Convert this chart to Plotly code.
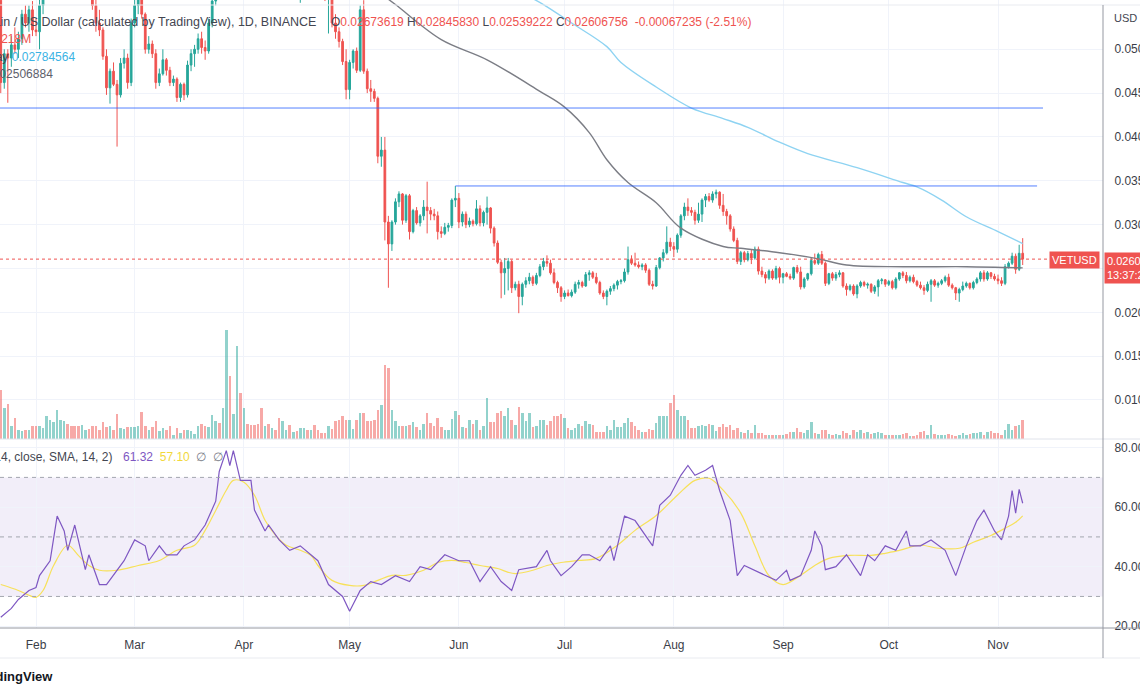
import pandas as pd
import plotly.graph_objects as go

# ---------------- DATA (VET/USD daily) ----------------
dates = pd.date_range("2022-01-22", "2022-11-08", freq="D")

opens = [
    0.0556, 0.0462, 0.0495, 0.0490, 0.0505, 0.0500, 0.0512, 0.0540, 0.0530, 0.0545,
    0.0522, 0.0520, 0.0550, 0.0575, 0.0610, 0.0620, 0.0630, 0.0670, 0.0680, 0.0690, 0.0650, 0.0610, 0.0605, 0.0580, 0.0590, 0.0610, 0.0590, 0.0550, 0.0530, 0.0522, 0.0492, 0.0456, 0.0475, 0.0460, 0.0448, 0.0484, 0.0490, 0.0462,
    0.0530, 0.0550, 0.0558, 0.0540, 0.0500, 0.0506, 0.0495, 0.0462, 0.0472, 0.0488, 0.0476, 0.0462, 0.0466, 0.0445, 0.0460, 0.0448, 0.0482, 0.0495, 0.0500, 0.0512, 0.0502, 0.0498, 0.0530, 0.0555, 0.0600, 0.0590, 0.0600, 0.0650, 0.0640, 0.0690, 0.0720,
    0.0690, 0.0710, 0.0700, 0.0695, 0.0680, 0.0665, 0.0620, 0.0635, 0.0615, 0.0625, 0.0610, 0.0575, 0.0585, 0.0600, 0.0585, 0.0595, 0.0575, 0.0592, 0.0600, 0.0595, 0.0605, 0.0585, 0.0575, 0.0570, 0.0560, 0.0565, 0.0530, 0.0520, 0.0509, 0.0486,
    0.0454, 0.0485, 0.0498, 0.0476, 0.0545, 0.0475, 0.0455, 0.0452, 0.0444, 0.0378, 0.0385, 0.0303, 0.0278, 0.0303, 0.0326, 0.0335, 0.0305, 0.0333, 0.0292, 0.0316, 0.0302, 0.0310, 0.0320, 0.0316, 0.0312, 0.0310, 0.0292, 0.0290, 0.0297, 0.0299, 0.0328,
    0.0330, 0.0303, 0.0312, 0.0300, 0.0304, 0.0301, 0.0318, 0.0302, 0.0314, 0.0319, 0.0296, 0.0279, 0.0257, 0.0245, 0.0250, 0.0258, 0.0228, 0.0232, 0.0218, 0.0232, 0.0236, 0.0240, 0.0233, 0.0242, 0.0252, 0.0258, 0.0256, 0.0245, 0.0234, 0.0228,
    0.0218, 0.0222, 0.0219, 0.0223, 0.0232, 0.0234, 0.0230, 0.0243, 0.0245, 0.0240, 0.0234, 0.0222, 0.0218, 0.0224, 0.0227, 0.0231, 0.0235, 0.0236, 0.0246, 0.0260, 0.0256, 0.0254, 0.0252, 0.0254, 0.0248, 0.0232, 0.0230, 0.0251, 0.0262, 0.0268, 0.0280,
    0.0275, 0.0272, 0.0288, 0.0310, 0.0320, 0.0316, 0.0314, 0.0305, 0.0312, 0.0328, 0.0332, 0.0328, 0.0335, 0.0337, 0.0322, 0.0315, 0.0310, 0.0295, 0.0282, 0.0258, 0.0268, 0.0260, 0.0267, 0.0262, 0.0272, 0.0247, 0.0243, 0.0239, 0.0247, 0.0239, 0.0250,
    0.0240, 0.0244, 0.0241, 0.0239, 0.0251, 0.0246, 0.0229, 0.0238, 0.0244, 0.0259, 0.0256, 0.0266, 0.0256, 0.0233, 0.0244, 0.0239, 0.0243, 0.0245, 0.0230, 0.0226, 0.0230, 0.0221, 0.0230, 0.0234, 0.0231, 0.0232, 0.0224, 0.0229, 0.0236, 0.0237,
    0.0232, 0.0235, 0.0228, 0.0238, 0.0245, 0.0242, 0.0236, 0.0240, 0.0235, 0.0231, 0.0228, 0.0225, 0.0232, 0.0236, 0.0231, 0.0233, 0.0236, 0.0240, 0.0231, 0.0228, 0.0222, 0.0226, 0.0230, 0.0233, 0.0228, 0.0234, 0.0238, 0.0245, 0.0238, 0.0245, 0.0241,
    0.0238, 0.0236, 0.0233, 0.0252, 0.0256, 0.0264, 0.0249, 0.02673619,
]
highs = [
    0.0565, 0.0500, 0.0500, 0.0515, 0.0525, 0.0520, 0.0545, 0.0550, 0.0550, 0.0555,
    0.0535, 0.0560, 0.0580, 0.0620, 0.0630, 0.0640, 0.0680, 0.0700, 0.0700, 0.0700, 0.0660, 0.0625, 0.0610, 0.0600, 0.0620, 0.0615, 0.0595, 0.0560, 0.0545, 0.0525, 0.0500, 0.0478, 0.0485, 0.0465, 0.0490, 0.0500, 0.0495, 0.0535,
    0.0560, 0.0565, 0.0562, 0.0542, 0.0515, 0.0510, 0.0500, 0.0478, 0.0500, 0.0490, 0.0480, 0.0470, 0.0468, 0.0462, 0.0462, 0.0487, 0.0500, 0.0505, 0.0518, 0.0520, 0.0510, 0.0535, 0.0560, 0.0610, 0.0610, 0.0610, 0.0660, 0.0690, 0.0700, 0.0730, 0.0730,
    0.0720, 0.0725, 0.0715, 0.0700, 0.0690, 0.0668, 0.0640, 0.0640, 0.0630, 0.0630, 0.0612, 0.0595, 0.0605, 0.0605, 0.0598, 0.0600, 0.0598, 0.0605, 0.0610, 0.0612, 0.0615, 0.0590, 0.0580, 0.0575, 0.0570, 0.0568, 0.0540, 0.0525, 0.0512, 0.0500,
    0.0488, 0.0500, 0.0502, 0.0550, 0.0556, 0.0478, 0.0465, 0.0455, 0.0446, 0.0400, 0.0400, 0.0310, 0.0305, 0.0330, 0.0338, 0.0336, 0.0335, 0.0335, 0.0318, 0.0320, 0.0312, 0.0328, 0.0349, 0.0320, 0.0318, 0.0315, 0.0298, 0.0302, 0.0302, 0.0330, 0.0344,
    0.0336, 0.0315, 0.0315, 0.0308, 0.0306, 0.0328, 0.0322, 0.0316, 0.0332, 0.0320, 0.0298, 0.0282, 0.0260, 0.0262, 0.0262, 0.0260, 0.0235, 0.0236, 0.0234, 0.0240, 0.0245, 0.0242, 0.0245, 0.0255, 0.0262, 0.0265, 0.0260, 0.0250, 0.0236, 0.0230,
    0.0225, 0.0226, 0.0226, 0.0235, 0.0237, 0.0236, 0.0246, 0.0248, 0.0247, 0.0245, 0.0236, 0.0225, 0.0226, 0.0230, 0.0233, 0.0237, 0.0238, 0.0250, 0.0275, 0.0265, 0.0268, 0.0258, 0.0256, 0.0256, 0.0250, 0.0236, 0.0254, 0.0263, 0.0272, 0.0298, 0.0285,
    0.0280, 0.0290, 0.0312, 0.0325, 0.0330, 0.0320, 0.0317, 0.0325, 0.0330, 0.0335, 0.0336, 0.0338, 0.0340, 0.0338, 0.0335, 0.0318, 0.0312, 0.0298, 0.0285, 0.0270, 0.0270, 0.0270, 0.0272, 0.0275, 0.0275, 0.0252, 0.0246, 0.0249, 0.0249, 0.0253, 0.0252,
    0.0245, 0.0246, 0.0244, 0.0252, 0.0254, 0.0252, 0.0240, 0.0245, 0.0262, 0.0267, 0.0268, 0.0270, 0.0258, 0.0245, 0.0246, 0.0246, 0.0248, 0.0246, 0.0233, 0.0232, 0.0232, 0.0232, 0.0236, 0.0236, 0.0234, 0.0233, 0.0231, 0.0238, 0.0239, 0.0238,
    0.0237, 0.0237, 0.0240, 0.0246, 0.0247, 0.0246, 0.0242, 0.0243, 0.0237, 0.0235, 0.0231, 0.0235, 0.0238, 0.0238, 0.0235, 0.0238, 0.0242, 0.0244, 0.0233, 0.0229, 0.0228, 0.0235, 0.0235, 0.0234, 0.0236, 0.0240, 0.0247, 0.0248, 0.0247, 0.0246, 0.0244,
    0.0243, 0.0240, 0.0255, 0.0258, 0.0268, 0.0267, 0.0277, 0.0284583,
]
lows = [
    0.0450, 0.0455, 0.0439, 0.0480, 0.0495, 0.0490, 0.0505, 0.0525, 0.0520, 0.0515,
    0.0515, 0.0500, 0.0540, 0.0570, 0.0600, 0.0610, 0.0625, 0.0650, 0.0665, 0.0640, 0.0600, 0.0595, 0.0575, 0.0570, 0.0585, 0.0580, 0.0545, 0.0520, 0.0515, 0.0488, 0.0448, 0.0438, 0.0458, 0.0389, 0.0445, 0.0478, 0.0455, 0.0458,
    0.0525, 0.0540, 0.0535, 0.0495, 0.0495, 0.0490, 0.0455, 0.0458, 0.0470, 0.0470, 0.0458, 0.0458, 0.0440, 0.0440, 0.0442, 0.0445, 0.0475, 0.0480, 0.0495, 0.0495, 0.0488, 0.0495, 0.0525, 0.0550, 0.0580, 0.0585, 0.0595, 0.0620, 0.0635, 0.0680, 0.0680,
    0.0670, 0.0690, 0.0690, 0.0670, 0.0660, 0.0610, 0.0615, 0.0610, 0.0610, 0.0605, 0.0570, 0.0570, 0.0580, 0.0580, 0.0580, 0.0570, 0.0553, 0.0580, 0.0590, 0.0590, 0.0580, 0.0570, 0.0565, 0.0555, 0.0518, 0.0525, 0.0512, 0.0502, 0.0482, 0.0443,
    0.0443, 0.0478, 0.0473, 0.0474, 0.0472, 0.0450, 0.0440, 0.0440, 0.0370, 0.0366, 0.0282, 0.0228, 0.0270, 0.0300, 0.0320, 0.0300, 0.0302, 0.0283, 0.0290, 0.0300, 0.0298, 0.0305, 0.0290, 0.0305, 0.0305, 0.0283, 0.0285, 0.0288, 0.0292, 0.0296, 0.0320,
    0.0296, 0.0298, 0.0296, 0.0297, 0.0298, 0.0299, 0.0298, 0.0298, 0.0300, 0.0290, 0.0275, 0.0255, 0.0216, 0.0220, 0.0225, 0.0222, 0.0225, 0.0199, 0.0208, 0.0228, 0.0232, 0.0230, 0.0231, 0.0240, 0.0248, 0.0252, 0.0243, 0.0232, 0.0222, 0.0212,
    0.0215, 0.0218, 0.0217, 0.0221, 0.0227, 0.0228, 0.0229, 0.0236, 0.0238, 0.0232, 0.0220, 0.0215, 0.0208, 0.0220, 0.0224, 0.0226, 0.0232, 0.0234, 0.0243, 0.0254, 0.0252, 0.0250, 0.0248, 0.0245, 0.0230, 0.0226, 0.0229, 0.0249, 0.0258, 0.0266, 0.0270,
    0.0263, 0.0268, 0.0285, 0.0305, 0.0310, 0.0310, 0.0300, 0.0302, 0.0303, 0.0320, 0.0326, 0.0325, 0.0330, 0.0318, 0.0310, 0.0300, 0.0292, 0.0280, 0.0255, 0.0254, 0.0257, 0.0258, 0.0255, 0.0260, 0.0243, 0.0240, 0.0233, 0.0237, 0.0237, 0.0237, 0.0233,
    0.0233, 0.0240, 0.0237, 0.0237, 0.0244, 0.0226, 0.0227, 0.0236, 0.0242, 0.0254, 0.0254, 0.0254, 0.0230, 0.0231, 0.0236, 0.0236, 0.0240, 0.0228, 0.0219, 0.0224, 0.0219, 0.0216, 0.0228, 0.0229, 0.0227, 0.0222, 0.0221, 0.0218, 0.0232, 0.0229,
    0.0230, 0.0226, 0.0226, 0.0236, 0.0239, 0.0233, 0.0234, 0.0233, 0.0229, 0.0226, 0.0220, 0.0223, 0.0212, 0.0229, 0.0228, 0.0231, 0.0234, 0.0229, 0.0226, 0.0214, 0.0212, 0.0224, 0.0228, 0.0226, 0.0226, 0.0232, 0.0235, 0.0235, 0.0236, 0.0238, 0.0236,
    0.0232, 0.0230, 0.0231, 0.0250, 0.0254, 0.0244, 0.0247, 0.02539222,
]
closes = [
    0.0462, 0.0495, 0.0490, 0.0505, 0.0500, 0.0512, 0.0540, 0.0530, 0.0545, 0.0522,
    0.0520, 0.0550, 0.0575, 0.0610, 0.0620, 0.0630, 0.0670, 0.0680, 0.0690, 0.0650, 0.0610, 0.0605, 0.0580, 0.0590, 0.0610, 0.0590, 0.0550, 0.0530, 0.0522, 0.0492, 0.0456, 0.0475, 0.0460, 0.0448, 0.0484, 0.0490, 0.0462, 0.0530,
    0.0550, 0.0558, 0.0540, 0.0500, 0.0506, 0.0495, 0.0462, 0.0472, 0.0488, 0.0476, 0.0462, 0.0466, 0.0445, 0.0460, 0.0448, 0.0482, 0.0495, 0.0500, 0.0512, 0.0502, 0.0498, 0.0530, 0.0555, 0.0600, 0.0590, 0.0600, 0.0650, 0.0640, 0.0690, 0.0720, 0.0690,
    0.0710, 0.0700, 0.0695, 0.0680, 0.0665, 0.0620, 0.0635, 0.0615, 0.0625, 0.0610, 0.0575, 0.0585, 0.0600, 0.0585, 0.0595, 0.0575, 0.0592, 0.0600, 0.0595, 0.0605, 0.0585, 0.0575, 0.0570, 0.0560, 0.0565, 0.0530, 0.0520, 0.0509, 0.0486, 0.0454,
    0.0485, 0.0498, 0.0476, 0.0545, 0.0475, 0.0455, 0.0452, 0.0444, 0.0378, 0.0385, 0.0303, 0.0278, 0.0303, 0.0326, 0.0335, 0.0305, 0.0333, 0.0292, 0.0316, 0.0302, 0.0310, 0.0320, 0.0316, 0.0312, 0.0310, 0.0292, 0.0290, 0.0297, 0.0299, 0.0328, 0.0330,
    0.0303, 0.0312, 0.0300, 0.0304, 0.0301, 0.0318, 0.0302, 0.0314, 0.0319, 0.0296, 0.0279, 0.0257, 0.0245, 0.0250, 0.0258, 0.0228, 0.0232, 0.0218, 0.0232, 0.0236, 0.0240, 0.0233, 0.0242, 0.0252, 0.0258, 0.0256, 0.0245, 0.0234, 0.0228, 0.0218,
    0.0222, 0.0219, 0.0223, 0.0232, 0.0234, 0.0230, 0.0243, 0.0245, 0.0240, 0.0234, 0.0222, 0.0218, 0.0224, 0.0227, 0.0231, 0.0235, 0.0236, 0.0246, 0.0260, 0.0256, 0.0254, 0.0252, 0.0254, 0.0248, 0.0232, 0.0230, 0.0251, 0.0262, 0.0268, 0.0280, 0.0275,
    0.0272, 0.0288, 0.0310, 0.0320, 0.0316, 0.0314, 0.0305, 0.0312, 0.0328, 0.0332, 0.0328, 0.0335, 0.0337, 0.0322, 0.0315, 0.0310, 0.0295, 0.0282, 0.0258, 0.0268, 0.0260, 0.0267, 0.0262, 0.0272, 0.0247, 0.0243, 0.0239, 0.0247, 0.0239, 0.0250, 0.0240,
    0.0244, 0.0241, 0.0239, 0.0251, 0.0246, 0.0229, 0.0238, 0.0244, 0.0259, 0.0256, 0.0266, 0.0256, 0.0233, 0.0244, 0.0239, 0.0243, 0.0245, 0.0230, 0.0226, 0.0230, 0.0221, 0.0230, 0.0234, 0.0231, 0.0232, 0.0224, 0.0229, 0.0236, 0.0237, 0.0232,
    0.0235, 0.0228, 0.0238, 0.0245, 0.0242, 0.0236, 0.0240, 0.0235, 0.0231, 0.0228, 0.0225, 0.0232, 0.0236, 0.0231, 0.0233, 0.0236, 0.0240, 0.0231, 0.0228, 0.0222, 0.0226, 0.0230, 0.0233, 0.0228, 0.0234, 0.0238, 0.0245, 0.0238, 0.0245, 0.0241, 0.0238,
    0.0236, 0.0233, 0.0252, 0.0256, 0.0264, 0.0249, 0.02673619, 0.02606756,
]
volumes = [  # millions (relative)
    148, 93, 105, 38, 63, 28, 23, 28, 28, 38,
    40, 40, 33, 68, 56, 50, 88, 56, 53, 46, 40, 40, 40, 43, 28, 30, 38, 38, 28, 51, 36, 38, 28, 76, 33, 30, 36, 36,
    36, 38, 80, 38, 28, 35, 53, 23, 33, 28, 38, 13, 33, 18, 26, 28, 25, 16, 40, 46, 40, 35, 73, 53, 48, 93, 328, 188, 76, 280, 138,
    93, 46, 43, 43, 46, 93, 40, 46, 33, 26, 63, 53, 26, 43, 20, 23, 33, 33, 28, 28, 43, 28, 18, 18, 38, 30, 53, 56, 70, 58,
    56, 30, 56, 78, 78, 53, 53, 56, 88, 103, 223, 213, 88, 53, 38, 38, 38, 43, 50, 36, 28, 46, 78, 48, 38, 63, 36, 28, 26, 60, 83,
    73, 36, 33, 56, 46, 56, 28, 38, 123, 50, 50, 78, 83, 70, 93, 56, 43, 96, 78, 53, 78, 36, 40, 56, 58, 43, 53, 70, 70, 76,
    63, 33, 28, 33, 46, 38, 53, 46, 43, 20, 20, 20, 38, 28, 56, 36, 36, 48, 63, 50, 38, 26, 20, 20, 30, 28, 48, 68, 68, 68, 108,
    133, 86, 68, 68, 56, 33, 33, 38, 43, 38, 46, 43, 23, 36, 45, 36, 43, 28, 33, 20, 18, 28, 18, 43, 18, 18, 13, 13, 13, 13, 13,
    13, 16, 20, 20, 33, 20, 18, 28, 50, 18, 16, 28, 26, 16, 13, 16, 13, 23, 18, 13, 28, 20, 28, 18, 20, 16, 18, 20, 18, 13,
    13, 13, 13, 13, 14, 18, 10, 8, 13, 20, 23, 13, 43, 16, 13, 13, 13, 16, 13, 10, 13, 18, 13, 16, 18, 18, 20, 13, 20, 23, 18,
    18, 13, 28, 46, 28, 38, 43, 56,
]
last_change = -0.00067235
last_change_pct = -2.51

# moving averages (read at sample points)
ma_slow_dates = ["2022-05-10", "2022-05-14", "2022-05-27", "2022-06-09", "2022-06-24", "2022-07-01", "2022-07-08",
                 "2022-07-13", "2022-07-19", "2022-07-27", "2022-08-03", "2022-08-15", "2022-08-20", "2022-08-31",
                 "2022-09-11", "2022-09-19", "2022-10-05", "2022-10-23", "2022-11-08"]
ma_slow_vals = [0.0563, 0.0551, 0.0511, 0.0488, 0.0452, 0.0434, 0.0405, 0.0374, 0.0348, 0.0325, 0.0296, 0.0275,
                0.0273, 0.0268, 0.0261, 0.0254, 0.0252, 0.0252, 0.02506884]
ma_long_dates = ["2022-06-20", "2022-06-25", "2022-07-03", "2022-07-13", "2022-07-17", "2022-07-27", "2022-08-06",
                 "2022-08-15", "2022-08-22", "2022-08-31", "2022-09-08", "2022-09-22", "2022-10-05", "2022-10-09",
                 "2022-10-16", "2022-10-23", "2022-11-01", "2022-11-08"]
ma_long_vals = [0.0562, 0.0551, 0.0530, 0.0503, 0.0485, 0.0457, 0.0433, 0.0421, 0.0411, 0.0394, 0.0381, 0.0365,
                0.0348, 0.0343, 0.0328, 0.0309, 0.0292, 0.02784564]

rsi_dates = ["2022-01-22","2022-01-25","2022-01-27","2022-01-30","2022-02-01","2022-02-02","2022-02-05","2022-02-07","2022-02-09","2022-02-10",
             "2022-02-12","2022-02-15","2022-02-16","2022-02-19","2022-02-21","2022-02-24","2022-02-26","2022-03-01","2022-03-04","2022-03-05",
             "2022-03-08","2022-03-10","2022-03-13","2022-03-15","2022-03-18","2022-03-21","2022-03-24","2022-03-25","2022-03-27","2022-03-28",
             "2022-03-29","2022-03-31","2022-04-03","2022-04-04","2022-04-07","2022-04-08","2022-04-11","2022-04-14","2022-04-17","2022-04-22",
             "2022-04-25","2022-04-29","2022-05-01","2022-05-04","2022-05-07","2022-05-10","2022-05-14","2022-05-18","2022-05-21","2022-05-24",
             "2022-05-28","2022-06-01","2022-06-04","2022-06-07","2022-06-10","2022-06-13","2022-06-16","2022-06-18","2022-06-23","2022-06-26",
             "2022-06-27","2022-06-30","2022-07-03","2022-07-06","2022-07-08","2022-07-11","2022-07-14","2022-07-15","2022-07-18","2022-07-21",
             "2022-07-24","2022-07-26","2022-07-28","2022-07-31","2022-08-03","2022-08-05","2022-08-07","2022-08-10","2022-08-12","2022-08-14",
             "2022-08-17","2022-08-19","2022-08-21","2022-08-24","2022-08-27","2022-08-30","2022-09-02","2022-09-03","2022-09-06","2022-09-09",
             "2022-09-10","2022-09-12","2022-09-13","2022-09-16","2022-09-19","2022-09-22","2022-09-23","2022-09-25","2022-09-27","2022-09-30",
             "2022-10-03","2022-10-06","2022-10-07","2022-10-10","2022-10-13","2022-10-17","2022-10-20","2022-10-23","2022-10-26","2022-10-28",
             "2022-10-31","2022-11-02","2022-11-04","2022-11-05","2022-11-06","2022-11-07","2022-11-08"]
rsi_vals = [23, 26, 29, 32, 33, 37, 42, 57, 52, 45.5,
            54, 39, 44, 34, 34, 39, 42, 49, 47, 42,
            47, 44, 44, 47, 49, 54, 62, 72, 79, 74,
            79, 69, 69, 59, 52, 54, 49, 45.5, 47, 42,
            34, 30, 25, 32, 35, 34, 37, 35, 40, 39,
            44, 42, 42, 35, 40, 35, 32, 39, 40, 45.5,
            42, 37, 40, 44, 44, 42, 47, 42, 57, 55.5,
            50.5, 47, 60.6, 64, 70.7, 74, 70.7, 72.4, 74, 65.6,
            55.5, 37, 40.4, 38.8, 37, 35.4, 38.8, 35.4, 37, 45.5,
            52, 47, 39, 40, 44, 39, 37, 44, 42, 47,
            45.5, 52, 47, 47, 49, 45.5, 37, 47, 55.5, 59,
            52, 49, 57, 65.6, 58, 66, 61.32]
rsi_ma_dates = ["2022-01-22","2022-01-27","2022-01-30","2022-02-01","2022-02-03","2022-02-06","2022-02-10","2022-02-13","2022-02-16","2022-02-19",
                "2022-02-24","2022-03-02","2022-03-08","2022-03-13","2022-03-18","2022-03-21","2022-03-24","2022-03-27","2022-03-29","2022-04-01",
                "2022-04-04","2022-04-07","2022-04-10","2022-04-13","2022-04-17","2022-04-20","2022-04-22","2022-04-26","2022-05-01","2022-05-05",
                "2022-05-09","2022-05-13","2022-05-17","2022-05-22","2022-05-26","2022-05-30","2022-06-03","2022-06-07","2022-06-12","2022-06-15",
                "2022-06-17","2022-06-22","2022-06-26","2022-06-30","2022-07-05","2022-07-10","2022-07-16","2022-07-21","2022-07-27","2022-08-02",
                "2022-08-07","2022-08-11","2022-08-15","2022-08-20","2022-08-24","2022-08-28","2022-09-01","2022-09-06","2022-09-10","2022-09-14",
                "2022-09-20","2022-09-26","2022-09-30","2022-10-04","2022-10-10","2022-10-15","2022-10-21","2022-10-25","2022-10-30","2022-11-03",
                "2022-11-06","2022-11-08"]
rsi_ma_vals = [34, 32, 30.4, 29.7, 32, 40.4, 47.2, 43.8, 40.4, 38.8,
               38.8, 40.4, 42.1, 45.5, 47.2, 52.2, 58.9, 65.7, 69, 68.4,
               64, 55.6, 50.5, 47.2, 45.5, 43.8, 40.4, 35.4, 33.7, 33.7,
               35.4, 37.1, 37.1, 38.8, 41.4, 42.1, 41.4, 40.4, 39.4, 38.1,
               37.7, 38.8, 40.4, 41.4, 42.1, 42.8, 47.2, 52.2, 57.2, 64,
               69, 69.7, 65.7, 58, 47, 37, 34, 37.1, 40.4, 42.8,
               43.8, 43.8, 44.5, 45.5, 47.2, 46.2, 46.2, 48.2, 50.5, 52.9,
               54.9, 57.1]

level_prices = [0.0433, 0.03441]
level_starts = [None, "2022-05-31"]
level_ends = ["2022-11-13 19:00", "2022-11-12 02:00"]
month_ticks = ["2022-02-01", "2022-03-01", "2022-04-01", "2022-05-01", "2022-06-01",
               "2022-07-01", "2022-08-01", "2022-09-01", "2022-10-01", "2022-11-01"]
month_labels = ["Feb", "Mar", "Apr", "May", "Jun", "Jul", "Aug", "Sep", "Oct", "Nov"]
price_ticks = [0.010, 0.015, 0.020, 0.025, 0.030, 0.035, 0.040, 0.045, 0.050]
price_labels = ["0.010", "0.015", "0.020", "", "0.030", "0.035", "0.040", "0.045", "0.050"]
rsi_ticks = [20, 40, 60, 80]

n = len(dates)
for arr in (opens, highs, lows, closes, volumes):
    assert len(arr) == n, len(arr)
assert len(rsi_dates) == len(rsi_vals)
assert len(rsi_ma_dates) == len(rsi_ma_vals)
assert len(ma_slow_dates) == len(ma_slow_vals)
assert len(ma_long_dates) == len(ma_long_vals)

# ---------------- LAYOUT HELPERS ----------------
W, H = 1140, 694
PW, PH = 1103, 628          # plot area (margins r=37, b=66)


def px(x):
    return x / PW


def py(y):
    return 1 - y / PH


SPLIT = py(439)
UP, DOWN = "#26a69a", "#ef5350"
FONT = "Liberation Sans"
TXT = "#131722"
GRID = "#f0f3fa"

vol_colors = ["rgba(38,166,154,0.5)" if c >= o else "rgba(239,83,80,0.5)" for o, c in zip(opens, closes)]

fig = go.Figure()
fig.add_trace(go.Bar(x=dates, y=volumes, marker=dict(color=vol_colors, line=dict(width=0)),
                     width=0.72 * 86400000, xaxis="x", yaxis="y3", hoverinfo="skip"))
fig.add_trace(go.Candlestick(x=dates, open=opens, high=highs, low=lows, close=closes,
                             increasing=dict(line=dict(color=UP, width=1), fillcolor=UP),
                             decreasing=dict(line=dict(color=DOWN, width=1), fillcolor=DOWN),
                             whiskerwidth=0, xaxis="x", yaxis="y"))
fig.add_trace(go.Scatter(x=ma_slow_dates, y=ma_slow_vals, mode="lines", line=dict(color="#7b7d85", width=1.4, shape="spline"),
                         xaxis="x", yaxis="y"))
fig.add_trace(go.Scatter(x=ma_long_dates, y=ma_long_vals, mode="lines", line=dict(color="#8ed3f2", width=1.4, shape="spline"),
                         xaxis="x", yaxis="y"))
fig.add_trace(go.Scatter(x=rsi_ma_dates, y=rsi_ma_vals, mode="lines", line=dict(color="#f7e15a", width=1.2, shape="spline"),
                         xaxis="x", yaxis="y2"))
fig.add_trace(go.Scatter(x=rsi_dates, y=rsi_vals, mode="lines", line=dict(color="#7e57c2", width=1.2),
                         xaxis="x", yaxis="y2"))

shapes = []
shapes.append(dict(type="rect", xref="paper", yref="y2", x0=0, x1=1, y0=30, y1=70,
                   fillcolor="rgba(126,87,194,0.10)", line=dict(width=0), layer="below"))
for lv in (70, 50, 30):
    shapes.append(dict(type="line", xref="paper", yref="y2", x0=0, x1=1, y0=lv, y1=lv,
                       line=dict(color="#a3a6af", width=1, dash="4px,4px")))
for p, s, e in zip(level_prices, level_starts, level_ends):
    if s is None:
        shapes.append(dict(type="line", xref="paper", yref="y", x0=0, x1=px(1043), y0=p, y1=p,
                           line=dict(color="rgba(41,98,255,0.8)", width=1)))
    else:
        shapes.append(dict(type="line", xref="x", yref="y", x0=s, x1=e, y0=p, y1=p,
                           line=dict(color="rgba(41,98,255,0.8)", width=1)))
shapes.append(dict(type="line", xref="paper", yref="y", x0=0, x1=px(1051), y0=closes[-1], y1=closes[-1],
                   line=dict(color=DOWN, width=1, dash="dot")))
shapes.append(dict(type="line", xref="paper", yref="paper", x0=0, x1=W / PW, y0=py(439), y1=py(439),
                   line=dict(color="#e0e3eb", width=1)))
shapes.append(dict(type="line", xref="paper", yref="paper", x0=0, x1=W / PW, y0=py(628), y1=py(628),
                   line=dict(color="#9598a1", width=1)))
shapes.append(dict(type="line", xref="paper", yref="paper", x0=0, x1=W / PW, y0=py(658), y1=py(658),
                   line=dict(color="#e9ebf0", width=1)))
shapes.append(dict(type="line", xref="paper", yref="paper", x0=0, x1=W / PW, y0=py(5), y1=py(5),
                   line=dict(color="#e9ebf0", width=1)))
shapes.append(dict(type="line", xref="paper", yref="paper", x0=1, x1=1, y0=py(5), y1=py(658),
                   line=dict(color="#9598a1", width=1)))

red = DOWN
ohlc_txt = (f"O<span style='color:{red}'>{opens[-1]:.8f}</span> H<span style='color:{red}'>{highs[-1]:.8f}</span> "
            f"L<span style='color:{red}'>{lows[-1]:.8f}</span> C<span style='color:{red}'>{closes[-1]:.8f}</span>"
            f"<span style='color:{red}'>  {last_change:.8f} ({last_change_pct:.2f}%)</span>")

ann = [
    dict(text="VeChain / US Dollar (calculated by TradingView), 1D, BINANCE", x=px(318), y=py(22), xanchor="right",
         font=dict(size=12.5, color="#434651")),
    dict(text=ohlc_txt, x=px(329), y=py(22), xanchor="left", font=dict(size=12, color="#434651")),
    dict(text="Vol · VET  2.218M", x=px(33), y=py(39), xanchor="right", font=dict(size=12, color=red)),
    dict(text=f"MA 200 Day <span style='color:#3bb3e4'>{ma_long_vals[-1]:.8f}</span>", x=px(77), y=py(57),
         xanchor="right", font=dict(size=12, color="#434651")),
    dict(text=f"MA 100 close 0 SMA 9  {ma_slow_vals[-1]:.8f}", x=px(55), y=py(74), xanchor="right",
         font=dict(size=12, color="#5d606b")),
    dict(text="RSI (14, close, SMA, 14, 2)", x=px(114), y=py(457), xanchor="right", font=dict(size=12, color="#434651")),
    dict(text=f"<span style='color:#7e57c2'>{rsi_vals[-1]:.2f}</span>  <span style='color:#f2d83b'>{rsi_ma_vals[-1]:.2f}</span>"
              f"  <span style='color:#787b86'>∅  ∅</span>", x=px(121), y=py(457), xanchor="left", font=dict(size=12)),
    dict(text="USD", x=px(1112), y=py(18), xanchor="left", font=dict(size=11, color="#434651")),
    dict(text="VETUSD", x=px(1100), y=py(260), xanchor="right", font=dict(size=11, color="white"),
         bgcolor=red, borderpad=2),
    dict(text=f"{closes[-1]:.8f}<br>13:37:22", x=px(1104), y=py(252), xanchor="left", yanchor="top", align="left",
         font=dict(size=11, color="white"), bgcolor=red, borderpad=2),
    dict(text="<b>TradingView</b>", x=px(55), y=py(676), xanchor="right", font=dict(size=13, color=TXT)),
]
for a in ann:
    a.setdefault("xref", "paper")
    a.setdefault("yref", "paper")
    a.setdefault("showarrow", False)
    a.setdefault("yanchor", "middle")

axis_font = dict(size=12, color="#3b3e48")
fig.update_layout(
    template="none",
    width=W, height=H, margin=dict(l=0, r=37, t=0, b=66, pad=0),
    paper_bgcolor="white", plot_bgcolor="white", showlegend=False,
    font=dict(family=FONT, color=TXT, size=12),
    shapes=shapes, annotations=ann, bargap=0, hovermode=False,
    xaxis=dict(type="date", range=["2022-01-21 18:49", "2022-11-30 19:00"], anchor="y2", domain=[0, 1],
               tickvals=month_ticks, ticktext=month_labels, showgrid=True, gridcolor=GRID, gridwidth=1,
               ticks="outside", ticklen=6, tickcolor="rgba(0,0,0,0)", tickfont=axis_font, automargin=False,
               showline=False, zeroline=False, rangeslider=dict(visible=False), fixedrange=True),
    yaxis=dict(domain=[SPLIT, 1], range=[0.00555, 0.05562], side="right", anchor="x", automargin=False,
               tickvals=price_ticks, ticktext=price_labels, showgrid=True, gridcolor=GRID, zeroline=False,
               ticks="outside", ticklen=8, tickcolor="rgba(0,0,0,0)", tickfont=axis_font),
    yaxis3=dict(overlaying="y", range=[0, 1317], visible=False, anchor="x"),
    yaxis2=dict(domain=[0, SPLIT], range=[19.4, 82.9], side="right", anchor="x", automargin=False,
                tickvals=rsi_ticks, tickformat=".2f", showgrid=True, gridcolor=GRID, zeroline=False,
                ticks="outside", ticklen=8, tickcolor="rgba(0,0,0,0)", tickfont=axis_font),
)

fig.write_html("out.html", config={"displayModeBar": False},
               post_script="document.body.style.margin='0px';document.body.style.padding='0px';"
                           "document.body.style.overflow='hidden';")
